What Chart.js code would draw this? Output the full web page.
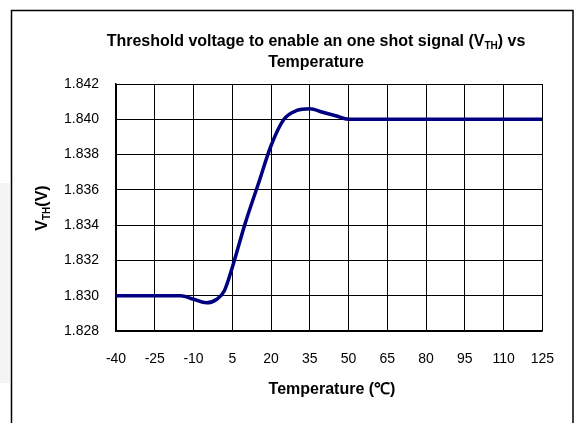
<!DOCTYPE html>
<html>
<head>
<meta charset="utf-8">
<script src="https://cdn.jsdelivr.net/npm/chart.js@4"></script>
<style>
  html, body { margin: 0; padding: 0; background: #fff; }
  #wrap { width: 574px; height: 423px; position: relative; }
</style>
</head>
<body>
<div id="wrap"><canvas id="chart" width="574" height="423"></canvas></div>
<script>
var temps = [-40, -30, -20, -15, -10, -5, -1, 2, 5, 10, 15, 20, 25, 30, 35, 40, 45, 50, 65, 80, 95, 110, 125];
var vth = [1.8300, 1.8300, 1.8300, 1.8300, 1.8298, 1.8296, 1.8298, 1.8303, 1.8316, 1.8341, 1.8363, 1.8385, 1.8400, 1.8405, 1.8406, 1.8404, 1.8402, 1.8400, 1.8400, 1.8400, 1.8400, 1.8400, 1.8400];
var xTicks = [-40, -25, -10, 5, 20, 35, 50, 65, 80, 95, 110, 125];
var yTicks = [1.828, 1.830, 1.832, 1.834, 1.836, 1.838, 1.840, 1.842];

var fontFam = "'Liberation Sans', Arial, sans-serif";

var points = [];
for (var i = 0; i < temps.length; i++) {
    points.push({x: temps[i], y: vth[i]});
}

// draws bold text where some parts are subscript, centred on cx,cy
function drawSub(ctx, parts, cx, cy, size, angle) {
    var widths = [];
    var total = 0;
    parts.forEach(function(p) {
        ctx.font = "bold " + (p.sub ? Math.round(size * 0.65) : size) + "px " + fontFam;
        var w = ctx.measureText(p.t).width;
        widths.push(w);
        total += w;
    });
    ctx.save();
    ctx.translate(cx, cy);
    ctx.rotate(angle || 0);
    ctx.fillStyle = "#000";
    ctx.textBaseline = "middle";
    ctx.textAlign = "left";
    var x = -total / 2;
    parts.forEach(function(p, k) {
        ctx.font = "bold " + (p.sub ? Math.round(size * 0.65) : size) + "px " + fontFam;
        ctx.fillText(p.t, x, p.sub ? 4 : 0);
        x += widths[k];
    });
    ctx.restore();
}

var decor = {
    id: "decor",
    beforeDraw: function(chart) {
        var ctx = chart.ctx;
        ctx.save();
        // faint watermark patch outside the frame
        ctx.fillStyle = "#f4f4f4";
        ctx.fillRect(0, 183, 10, 200);
        // outer frame
        ctx.strokeStyle = "#000";
        ctx.lineWidth = 1.5;
        ctx.beginPath();
        ctx.moveTo(11.5, 430);
        ctx.lineTo(11.5, 10.5);
        ctx.lineTo(573, 10.5);
        ctx.lineTo(573, 430);
        ctx.stroke();
        ctx.restore();
    },
    afterDraw: function(chart) {
        var ctx = chart.ctx;
        drawSub(ctx, [{t: "Threshold voltage to enable an one shot signal (V"}, {t: "TH", sub: true}, {t: ") vs"}], 316, 42, 16);
        drawSub(ctx, [{t: "Temperature"}], 316, 63, 16);
        drawSub(ctx, [{t: "V"}, {t: "TH", sub: true}, {t: "(V)"}], 43, 208, 16, -Math.PI / 2);
        drawSub(ctx, [{t: "Temperature (\u2103)"}], 332, 390, 16);
    }
};

var ctx = document.getElementById("chart").getContext("2d");
var chart = new Chart(ctx, {
    type: "line",
    data: {
        datasets: [{
            data: points,
            borderColor: "#000080",
            borderWidth: 3.5,
            pointRadius: 0,
            fill: false,
            cubicInterpolationMode: "monotone"
        }]
    },
    options: {
        responsive: false,
        animation: false,
        layout: {padding: {left: 0, top: 84, right: 27, bottom: 0}},
        plugins: {legend: {display: false}, tooltip: {enabled: false}},
        scales: {
            x: {
                type: "linear",
                min: -40,
                max: 125,
                afterBuildTicks: function(s) { s.ticks = xTicks.map(function(v) { return {value: v}; }); },
                afterFit: function(s) { s.height = 92; },
                grid: {color: "#000", lineWidth: 1, drawTicks: false},
                border: {color: "#000", width: 1.5},
                ticks: {color: "#000", padding: 20, maxRotation: 0, autoSkip: false, font: {family: fontFam, size: 14}}
            },
            y: {
                min: 1.828,
                max: 1.842,
                afterBuildTicks: function(s) { s.ticks = yTicks.map(function(v) { return {value: v}; }); },
                afterFit: function(s) { s.width = 116; },
                grid: {color: "#000", lineWidth: 1, drawTicks: false},
                border: {color: "#000", width: 1.5},
                ticks: {
                    color: "#000",
                    padding: 17,
                    autoSkip: false,
                    font: {family: fontFam, size: 14},
                    callback: function(v) { return v.toFixed(3); }
                }
            }
        }
    },
    plugins: [decor]
});
</script>
</body>
</html>
